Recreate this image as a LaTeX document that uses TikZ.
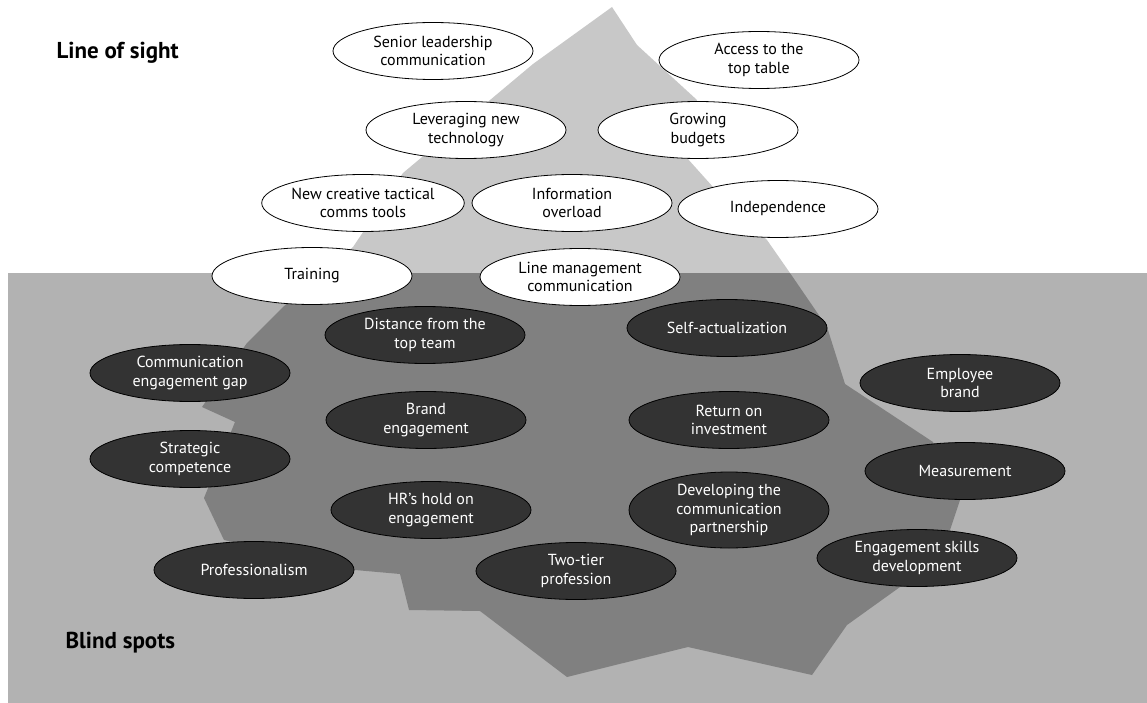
\documentclass[tikz,border=0pt]{standalone}
\usepackage{fontspec}
\setmainfont{PT Sans}
\usetikzlibrary{shapes.geometric}
\definecolor{seagray}{RGB}{178,178,178}
\definecolor{icetop}{RGB}{200,200,200}
\definecolor{icelow}{RGB}{128,128,128}
\definecolor{bubble}{RGB}{51,51,51}
\tikzset{
  above/.style={ellipse, draw=black, line width=0.8pt, fill=white, text=black,
    minimum width=200pt, minimum height=57pt, inner sep=0pt, align=center,
    font=\fontsize{16}{18.5}\selectfont},
  below/.style={above, fill=bubble, text=white},
  title/.style={anchor=west, font=\fontsize{23}{26}\selectfont\bfseries}
}
\begin{document}
\begin{tikzpicture}[x=1pt, y=-1pt]
\useasboundingbox (0,0) rectangle (1147,703);
% sea
\fill[seagray] (8,273) rectangle (1147,703);
% iceberg
\def\berg{(612,7) -- (637,45) -- (697,100) -- (687,158) -- (713,187) -- (767,240) -- (790,273) -- (827,327) -- (845,384) -- (933,442) -- (960,500) -- (950,530) -- (900,587) -- (847,625) -- (812,675) -- (688,647) -- (567,677) -- (480,611) -- (409,610) -- (400,574) -- (355,570) -- (224,540) -- (204,498) -- (235,422) -- (202,407) -- (247,343) -- (283,307) -- (353,247) -- (403,173) -- (533,64) -- cycle}
\begin{scope}
  \clip (0,0) rectangle (1147,273);
  \fill[icetop] \berg;
\end{scope}
\begin{scope}
  \clip (0,273) rectangle (1147,703);
  \fill[icelow] \berg;
\end{scope}
% titles
\node[title] (los) at (53,53) {Line of sight};
\node[title] (bs) at (62,643) {Blind spots};
% above the waterline
\node[above] (sen) at (433,51) {Senior leadership\\communication};
\node[above] (acc) at (759,60) {Access to the\\top table};
\node[above] (lev) at (466,130) {Leveraging new\\technology};
\node[above] (gro) at (698,130) {Growing\\budgets};
\node[above] (new) at (363,203) {New creative tactical\\comms tools};
\node[above] (inf) at (572,203) {Information\\overload};
\node[above] (ind) at (778,209) {Independence};
\node[above] (tra) at (312,276) {Training};
\node[above] (lin) at (580,277) {Line management\\communication};
% below the waterline
\node[below] (dis) at (425,335) {Distance from the\\top team};
\node[below] (sel) at (727,328) {Self-actualization};
\node[below] (com) at (190,373) {Communication\\engagement gap};
\node[below] (emp) at (960,383) {Employee\\brand};
\node[below] (bra) at (426,420) {Brand\\engagement};
\node[below] (ret) at (729,420) {Return on\\investment};
\node[below] (str) at (190,459) {Strategic\\competence};
\node[below] (mea) at (965,471) {Measurement};
\node[below] (hrs) at (431,510) {HR’s hold on\\engagement};
\node[below, minimum height=76pt] (dev) at (729,510) {Developing the\\communication\\partnership};
\node[below] (eng) at (917,558) {Engagement skills\\development};
\node[below] (two) at (576,571) {Two-tier\\profession};
\node[below] (pro) at (254,570) {Professionalism};
\end{tikzpicture}
\end{document}
